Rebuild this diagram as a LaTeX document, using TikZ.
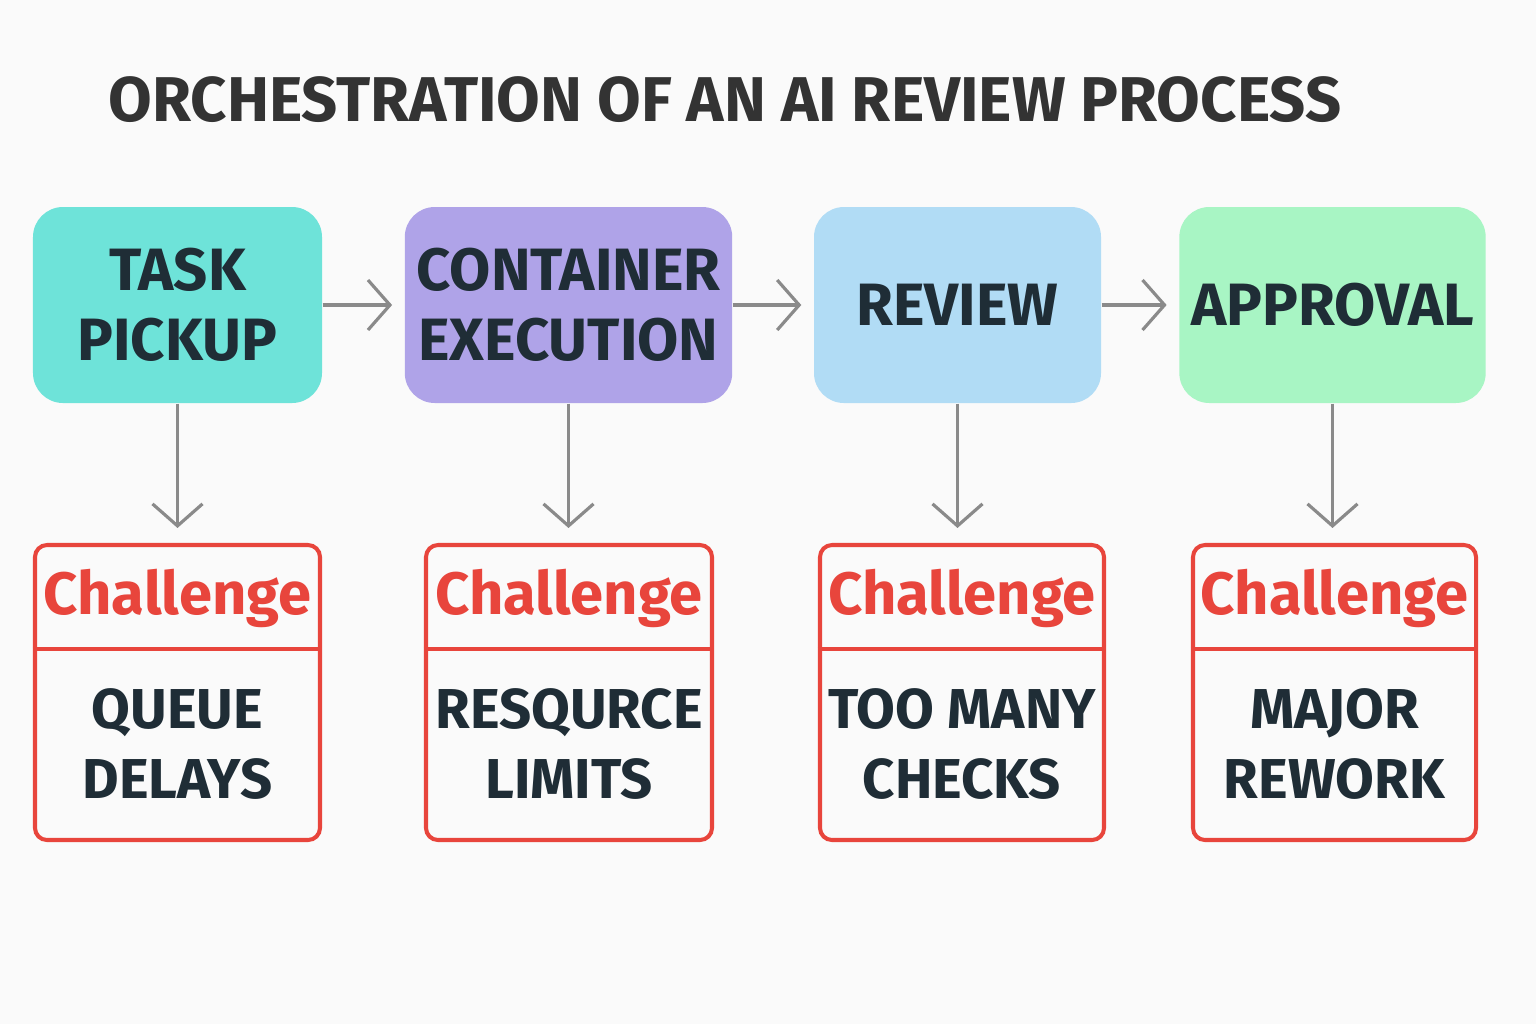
\documentclass[tikz,border=0pt]{standalone}
\usepackage{fontspec}
\setmainfont{Fira Sans}
\usetikzlibrary{arrows.meta}
\definecolor{tealbox}{HTML}{6EE3D9}
\definecolor{purplebox}{HTML}{AFA3E8}
\definecolor{bluebox}{HTML}{B1DCF5}
\definecolor{greenbox}{HTML}{A8F5C4}
\definecolor{chalred}{HTML}{E8453C}
\definecolor{arrowgray}{HTML}{8A8A8A}
\definecolor{darktext}{HTML}{1F2D36}
\tikzset{
	stage/.style={rounded corners=0.3cm, minimum height=1.96cm, align=center,
		font=\fontsize{17}{20}\selectfont\bfseries, text=darktext},
	chal/.style={draw=chalred, line width=1.15pt, rounded corners=0.12cm,
		minimum height=2.95cm},
	chalhead/.style={text=chalred, font=\fontsize{17}{20}\selectfont\bfseries},
	chalbody/.style={align=center, text=darktext, font=\fontsize{16}{20}\selectfont\bfseries},
	flow/.style={draw=arrowgray, line width=0.9pt, -{Straight Barb[length=2.2mm,width=5mm,line width=0.9pt]}}
}
\begin{document}
\begin{tikzpicture}
		% Background
		\fill[white!98!black] (0,0) rectangle (15.36,-10.24);
		\useasboundingbox (0,0) rectangle (15.36,-10.24);
		
		% Title
		\node[text=black!80, font=\fontsize{18}{22}\selectfont\bfseries] (title) at (7.25,-1.0) {ORCHESTRATION OF AN AI REVIEW PROCESS};
		
		% Stages
		\node[stage, fill=tealbox, minimum width=2.89cm] (pickup) at (1.775,-3.05) {TASK\\PICKUP};
		\node[stage, fill=purplebox, minimum width=3.17cm] (exec) at (5.685,-3.05) {CONTAINER\\EXECUTION};
		\node[stage, fill=bluebox, minimum width=2.87cm] (review) at (9.575,-3.05) {REVIEW};
		\node[stage, fill=greenbox, minimum width=2.95cm] (approval) at (13.325,-3.05) {APPROVAL};
		
		% Challenges
		\node[chal, minimum width=2.85cm] (c1) at (1.775,-6.925) {};
		\node[chal, minimum width=2.86cm] (c2) at (5.69,-6.925) {};
		\node[chal, minimum width=2.84cm] (c3) at (9.62,-6.925) {};
		\node[chal, minimum width=2.83cm] (c4) at (13.345,-6.925) {};
		
		\foreach \c in {c1, c2, c3, c4} {
			\draw[draw=chalred, line width=1.15pt] ([yshift=-1.06cm]\c.north west) -- ([yshift=-1.06cm]\c.north east);
			\node[chalhead] (\c-head) at ([yshift=-0.55cm]\c.north) {Challenge};
		}
		
		\node[chalbody] (c1-body) at ([yshift=0.98cm]c1.south) {QUEUE\\DELAYS};
		\node[chalbody] (c2-body) at ([yshift=0.98cm]c2.south) {RESQURCE\\LIMITS};
		\node[chalbody] (c3-body) at ([yshift=0.98cm]c3.south) {TOO MANY\\CHECKS};
		\node[chalbody] (c4-body) at ([yshift=0.98cm]c4.south) {MAJOR\\REWORK};
		
		% Arrows
		\foreach \a/\b in {pickup/exec, exec/review, review/approval}
			\draw[flow, shorten >=0.12cm] (\a.east) -- (\b.west);
		\foreach \a/\b in {pickup/c1, exec/c2, review/c3, approval/c4}
			\draw[flow, shorten >=0.15cm] (\a.south) -- (\a.south |- \b.north);
	\end{tikzpicture}
\end{document}
